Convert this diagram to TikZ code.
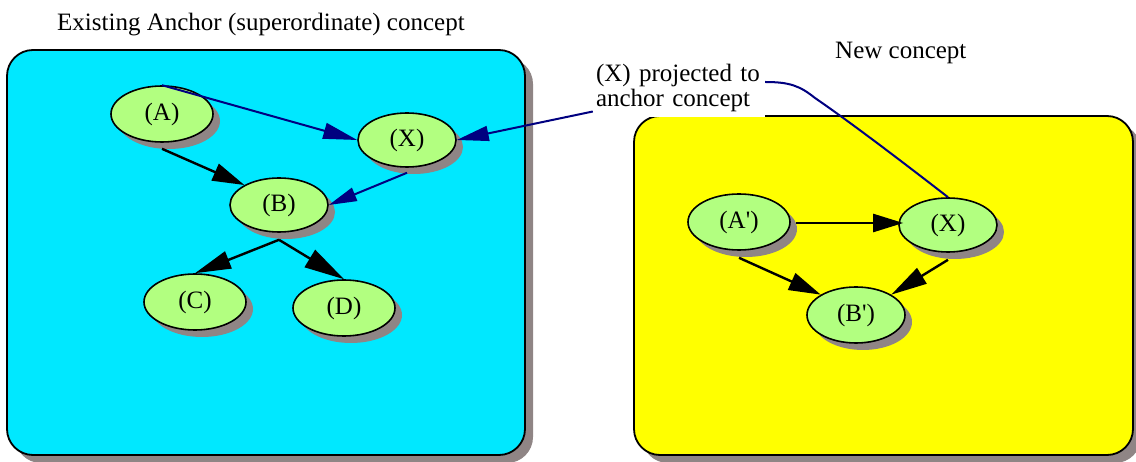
\documentclass[tikz,border=0pt]{standalone}
\usepackage{fontspec}
\setmainfont{Liberation Serif}
\usetikzlibrary{arrows.meta,shapes.geometric,shadows,calc}
\definecolor{boxcyan}{RGB}{0,232,255}
\definecolor{boxyellow}{RGB}{255,255,0}
\definecolor{nodegreen}{RGB}{178,255,128}
\definecolor{shgray}{RGB}{143,133,133}
\definecolor{navyline}{RGB}{0,0,128}
\tikzset{
  concept/.style={ellipse, draw=black, line width=1.6pt, fill=nodegreen,
    inner sep=0pt, minimum width=100pt, minimum height=55pt,
    font=\fontsize{25}{25}\selectfont,
    drop shadow={shadow xshift=7pt, shadow yshift=-7pt, fill=shgray, opacity=1}},
  panel/.style={draw=black, line width=1.8pt, rounded corners=26pt,
    drop shadow={shadow xshift=8pt, shadow yshift=-8pt, fill=shgray, opacity=1}},
  blk/.style={draw=black, line width=2.4pt, -{Triangle[length=32pt,width=18pt]}},
  blu/.style={draw=navyline, line width=2pt, -{Triangle[length=32pt,width=15pt]}},
  title/.style={font=\fontsize{25}{25}\selectfont, inner sep=0pt, anchor=base west},
}
\begin{document}
\begin{tikzpicture}[x=1pt,y=-1pt]
\useasboundingbox (0,0) rectangle (1136,462);
\fontsize{25}{25}\selectfont
% panels
\path[panel, fill=boxcyan] (7,50) rectangle (525,455);
\path[panel, fill=boxyellow] (634,116) rectangle (1133,455);
% titles
\node[title] (t1) at (57,31) {Existing Anchor (superordinate) concept};
\node[title] (t2) at (835,59) {New concept};
% left concepts
\node[concept, minimum width=102pt, minimum height=56pt] (A) at (162,114) {(A)};
\node[concept, minimum width=98pt, minimum height=54pt] (X) at (407,140) {(X)};
\node[concept, minimum width=98pt, minimum height=54pt] (B) at (279,205) {(B)};
\node[concept, minimum width=102pt, minimum height=56pt] (C) at (195,302) {(C)};
\node[concept, minimum width=102pt, minimum height=56pt] (D) at (344,308) {(D)};
% right concepts
\node[concept, minimum width=102pt, minimum height=56pt] (Ap) at (739,222) {(A\textquotesingle)};
\node[concept, minimum width=98pt, minimum height=54pt] (Xp) at (948,225) {(X)};
\node[concept, minimum width=98pt, minimum height=56pt] (Bp) at (856,315) {(B\textquotesingle)};
% label
\node[fill=white, inner sep=0pt, minimum width=172pt, minimum height=59pt,
      text width=166pt, align=left, font=\fontsize{25}{25}\selectfont] (lab) at (679,87.5)
      {(X) projected to\\anchor concept};
% left edges
\draw[blk] (A.south) ++(0,6) -- (B.150);
\draw[blu, -{Triangle[length=34pt,width=16pt]}] (A.north) -- (X.west);
\draw[blu, -{Triangle[length=28pt,width=14pt]}] ([yshift=-5pt]X.south) -- (B.east);
\draw[blu] ([yshift=-24pt]lab.west) -- (X.east);
\draw[blk, -{Triangle[length=36pt,width=18pt]}] ([yshift=-7pt]B.south) -- (C.north);
\draw[blk, -{Triangle[length=40pt,width=20pt]}] ([yshift=-7pt]B.south) -- (D.north);
% right edges
\draw[blk, -{Triangle[length=30pt,width=18pt]}] ([xshift=5pt,yshift=-1pt]Ap.east) -- ([xshift=5pt,yshift=-1pt]Ap.east -| Xp.west);
\draw[blk] ([yshift=-7pt]Ap.south) -- (Bp.150);
\draw[blk, -{Triangle[length=36pt,width=18pt]}] ([yshift=-7pt]Xp.south) -- (Bp.30);
\draw[navyline, line width=2pt] ([yshift=5.5pt]lab.east) .. controls (790,82) and (800,86) .. (815,98)
   .. controls (850,122) and (900,160) .. (Xp.north);
\end{tikzpicture}
\end{document}
